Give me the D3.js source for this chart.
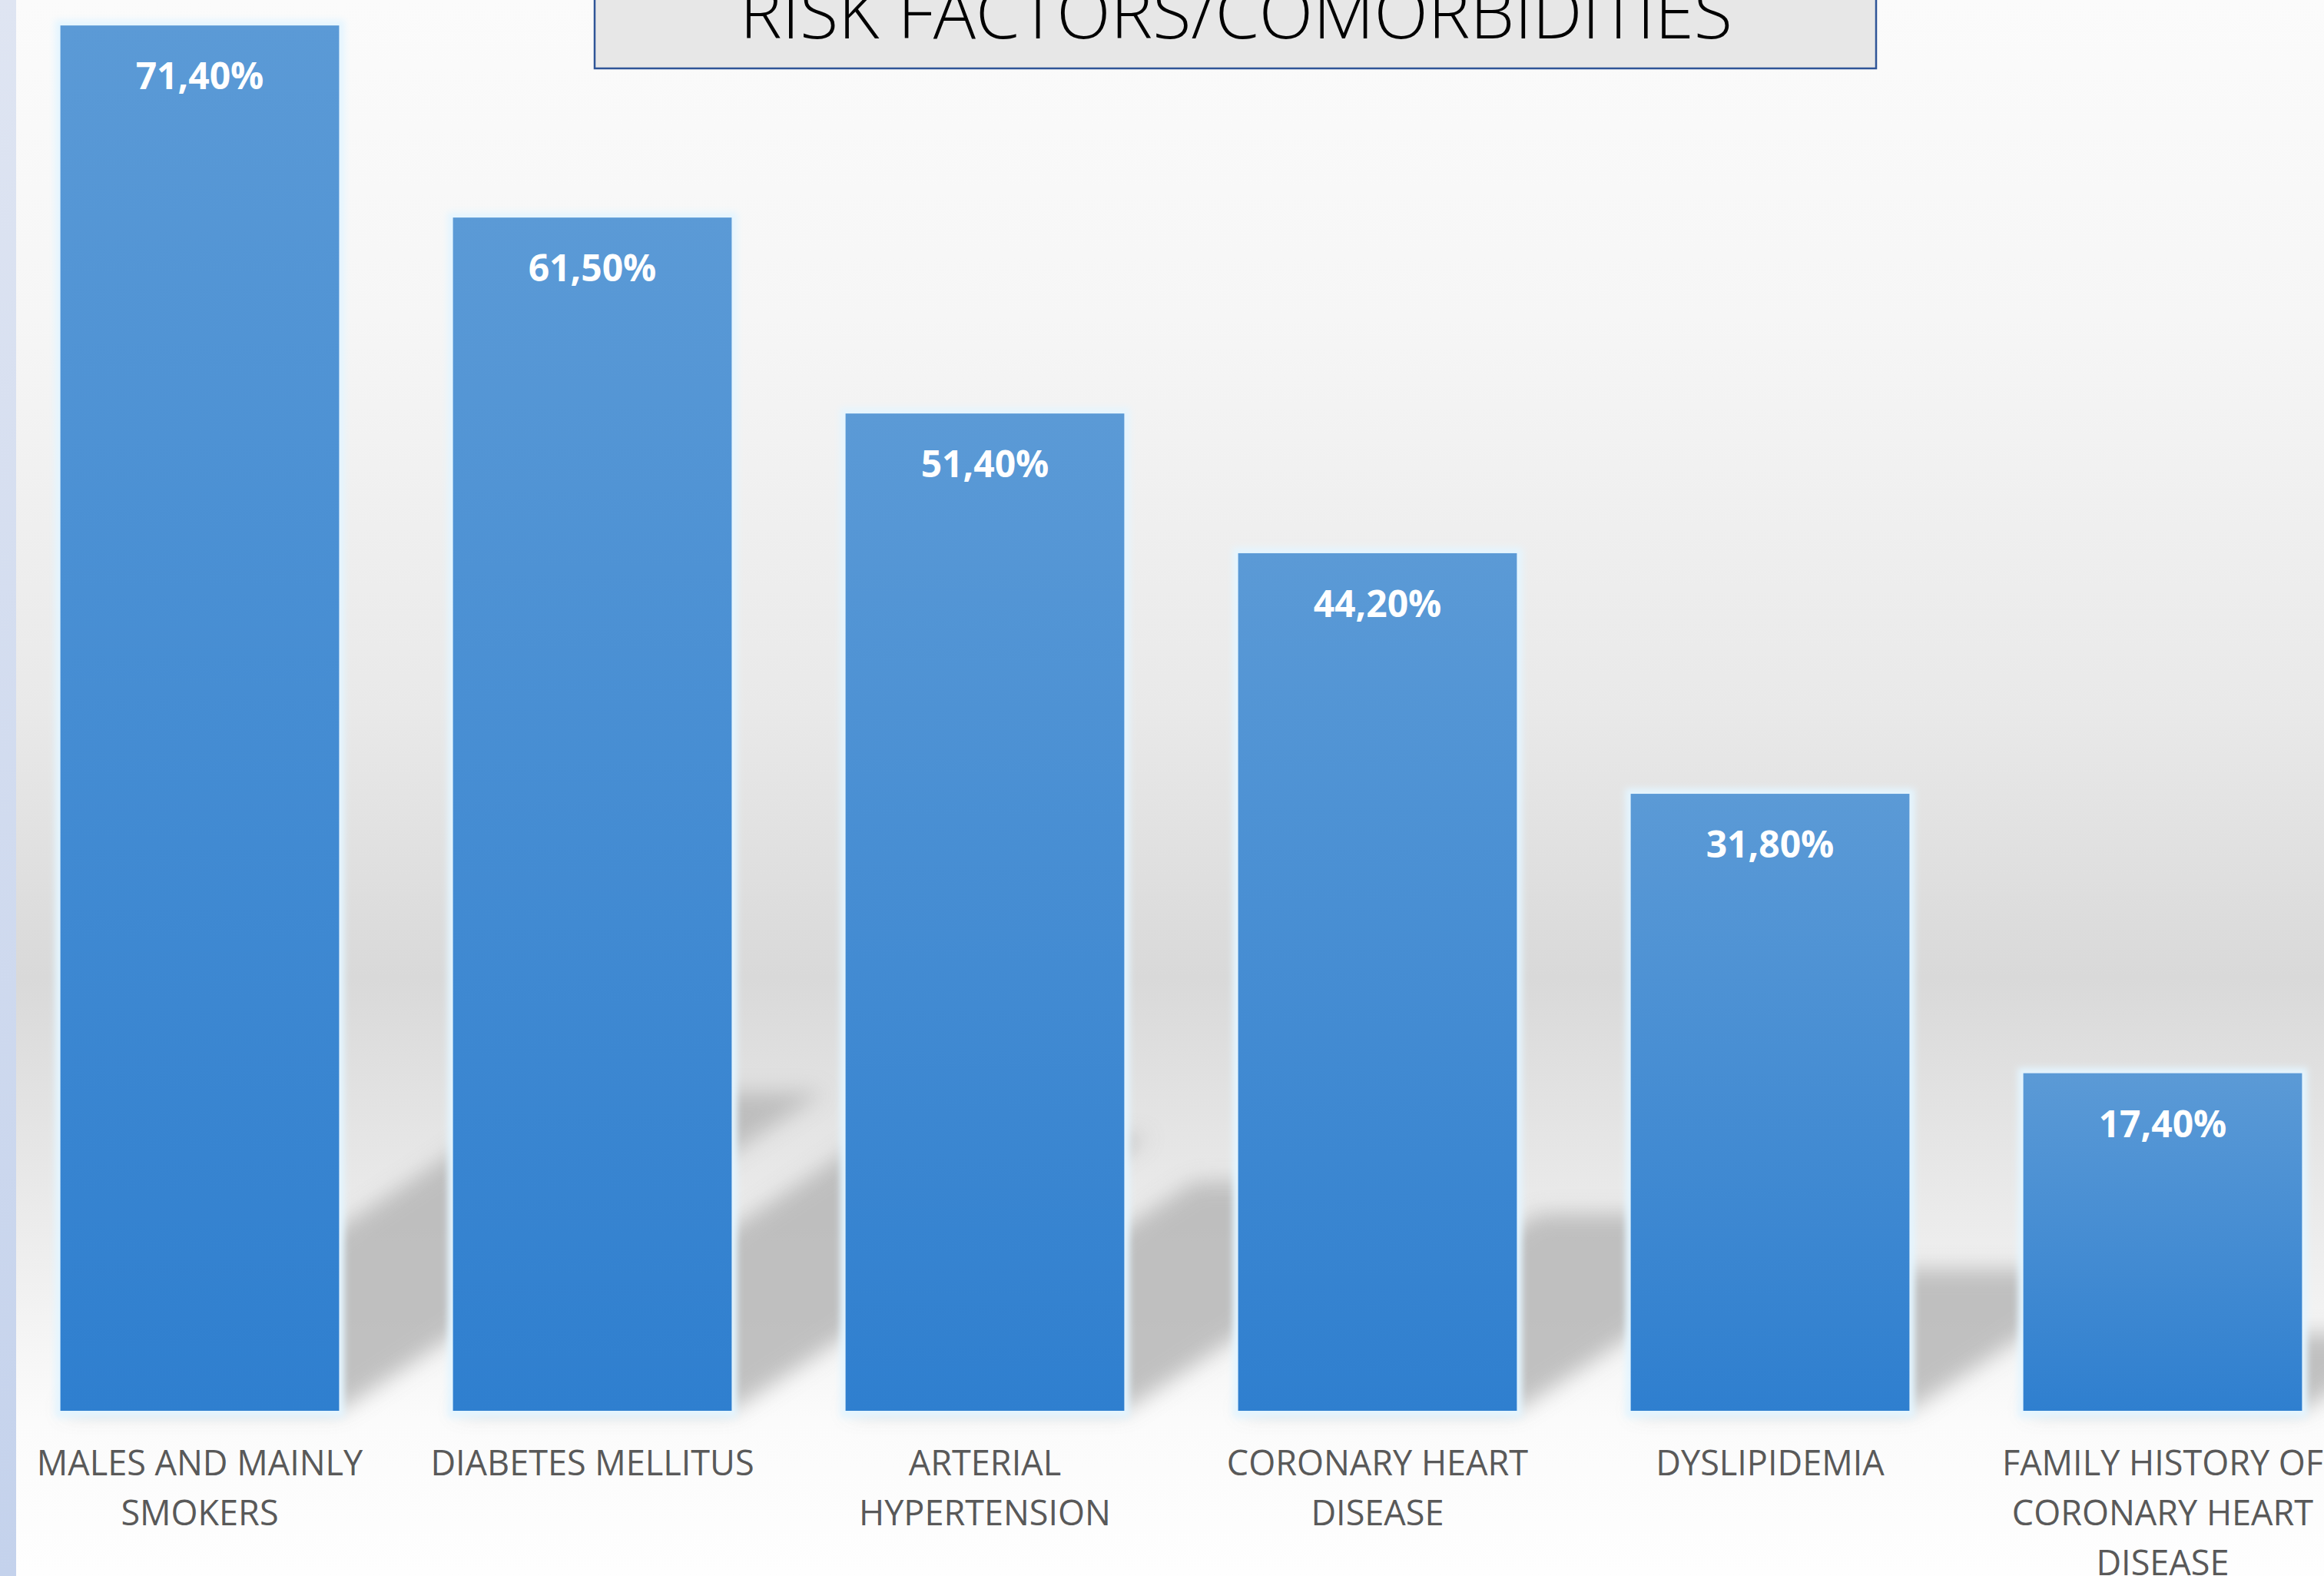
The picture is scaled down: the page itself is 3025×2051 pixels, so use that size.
<!DOCTYPE html>
<html>
<head>
<meta charset="utf-8">
<script src="https://cdn.jsdelivr.net/npm/d3@7"></script>
<style>
  html, body { margin: 0; padding: 0; background: #fff; }
  svg { display: block; }
</style>
</head>
<body>
<div id="chart"></div>
<script>
// chart data
var categories = ["MALES AND MAINLY SMOKERS", "DIABETES MELLITUS", "ARTERIAL HYPERTENSION",
                  "CORONARY HEART DISEASE", "DYSLIPIDEMIA", "FAMILY HISTORY OF CORONARY HEART DISEASE"];
var labelLines = [["MALES AND MAINLY", "SMOKERS"], ["DIABETES MELLITUS"], ["ARTERIAL", "HYPERTENSION"],
                  ["CORONARY HEART", "DISEASE"], ["DYSLIPIDEMIA"], ["FAMILY HISTORY OF", "CORONARY HEART", "DISEASE"]];
var values = [71.4, 61.5, 51.4, 44.2, 31.8, 17.4];
var title = "RISK FACTORS/COMORBIDITIES";

var w = 3025,
    h = 2051,
    baseY = 1836,
    unit = 25.25; // px per percent point

var svg = d3.select('#chart')
  .append('svg')
  .attr('width', w)
  .attr('height', h);

var defs = svg.append('defs');

// background gradient
var bg = defs.append('linearGradient').attr('id', 'bg').attr('x1', 0).attr('y1', 0).attr('x2', 0).attr('y2', 1);
[[0, '#fbfbfb'], [0.2, '#f6f6f6'], [0.45, '#e9e9e9'], [0.62, '#d9d9d9'], [0.78, '#ececec'], [0.9, '#fbfbfb'], [1, '#fefefe']]
  .forEach(function(s){ bg.append('stop').attr('offset', s[0]).attr('stop-color', s[1]); });

var strip = defs.append('linearGradient').attr('id', 'strip').attr('x1', 0).attr('y1', 0).attr('x2', 0).attr('y2', 1);
strip.append('stop').attr('offset', 0).attr('stop-color', '#dfe5f2');
strip.append('stop').attr('offset', 1).attr('stop-color', '#c4d2ec');

var barGrad = defs.append('linearGradient').attr('id', 'barGrad').attr('x1', 0).attr('y1', 0).attr('x2', 0).attr('y2', 1);
barGrad.append('stop').attr('offset', 0).attr('stop-color', '#5b9ad6');
barGrad.append('stop').attr('offset', 1).attr('stop-color', '#2f7fcf');

defs.append('filter').attr('id', 'blur').attr('x', '-30%').attr('y', '-30%').attr('width', '160%').attr('height', '160%')
  .append('feGaussianBlur').attr('stdDeviation', 14);
defs.append('filter').attr('id', 'glow').attr('x', '-20%').attr('y', '-20%').attr('width', '140%').attr('height', '140%')
  .append('feGaussianBlur').attr('stdDeviation', 4);

svg.append('rect').attr('x', 0).attr('y', 0).attr('width', w).attr('height', h).attr('fill', 'url(#bg)');
svg.append('rect').attr('x', 0).attr('y', 0).attr('width', 21).attr('height', h).attr('fill', 'url(#strip)');

// scales
var x = d3.scaleBand()
  .domain(categories)
  .range([4.5, 4.5 + 511 * categories.length])
  .paddingInner(0.29)
  .paddingOuter(0.145);

var y = d3.scaleLinear()
  .domain([0, 100])
  .range([baseY, baseY - 100 * unit]);

// perspective shadows (up and to the right)
var sy = 0.23, kx = 0.35;
svg.append('g').selectAll('polygon')
  .data(values)
  .enter()
  .append('polygon')
  .attr('points', function(d, i){
    var x0 = x(categories[i]), x1 = x0 + x.bandwidth();
    var H = baseY - y(d);
    var top = baseY - H * sy, dx = H * kx;
    return [[x0, baseY], [x1, baseY], [x1 + dx, top], [x0 + dx, top]].join(' ');
  })
  .attr('fill', '#b7b7b7')
  .attr('opacity', 0.85)
  .attr('filter', 'url(#blur)');

// soft light edge round the bars
svg.append('g').selectAll('rect')
  .data(values)
  .enter()
  .append('rect')
  .attr('x', function(d, i){ return x(categories[i]) - 7; })
  .attr('y', function(d){ return y(d) - 7; })
  .attr('width', x.bandwidth() + 14)
  .attr('height', function(d){ return baseY - y(d) + 16; })
  .attr('fill', '#e4f5ff')
  .attr('filter', 'url(#glow)');

// bars
svg.append('g').selectAll('rect')
  .data(values)
  .enter()
  .append('rect')
  .attr('x', function(d, i){ return x(categories[i]); })
  .attr('y', function(d){ return y(d); })
  .attr('width', x.bandwidth())
  .attr('height', function(d){ return baseY - y(d); })
  .attr('fill', 'url(#barGrad)');

// value labels
var fmt = d3.formatLocale({decimal: ',', thousands: '.', grouping: [3], currency: ['', '']}).format('.2f');
svg.append('g').selectAll('text')
  .data(values)
  .enter()
  .append('text')
  .attr('x', function(d, i){ return x(categories[i]) + x.bandwidth() / 2; })
  .attr('y', function(d){ return y(d) + 83; })
  .attr('text-anchor', 'middle')
  .attr('font-family', 'Open Sans, Lato, sans-serif')
  .attr('font-weight', 'bold')
  .attr('font-size', '48px')
  .attr('fill', '#ffffff')
  .text(function(d){ return fmt(d) + '%'; });

// category labels
var cat = svg.append('g').selectAll('text')
  .data(labelLines)
  .enter()
  .append('text')
  .attr('text-anchor', 'middle')
  .attr('font-family', 'Open Sans, Lato, sans-serif')
  .attr('font-size', '45px')
  .attr('fill', '#595959');
cat.selectAll('tspan')
  .data(function(d, i){ return d.map(function(t){ return {t: t, i: i}; }); })
  .enter()
  .append('tspan')
  .attr('x', function(d){ return x(categories[d.i]) + x.bandwidth() / 2; })
  .attr('y', function(d, j){ return 1920 + j * 65; })
  .text(function(d){ return d.t; });

// title box
svg.append('rect')
  .attr('x', 774).attr('y', -10)
  .attr('width', 1668).attr('height', 99)
  .attr('fill', '#e7e7e7')
  .attr('stroke', '#2f5597')
  .attr('stroke-width', 2.5);
svg.append('text')
  .attr('x', 1609).attr('y', 50)
  .attr('text-anchor', 'middle')
  .attr('font-family', 'Open Sans, Lato, sans-serif')
  .attr('font-weight', 300)
  .attr('font-size', '92px')
  .attr('fill', '#000')
  .text(title);
</script>
</body>
</html>
